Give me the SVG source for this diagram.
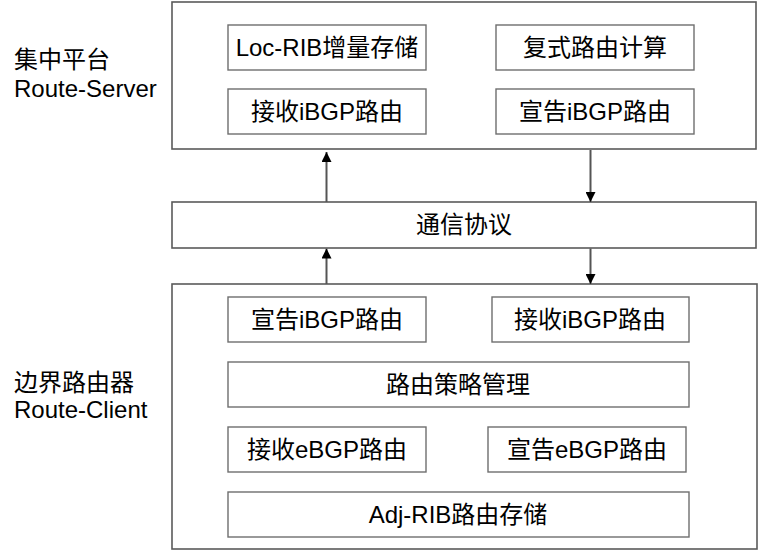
<svg xmlns="http://www.w3.org/2000/svg" width="759" height="551" viewBox="0 0 759 551">
<defs>
<style>
.outer{fill:#fff;stroke:#5a5a5a;stroke-width:1.6}
.inner{fill:#fff;stroke:#6e6e6e;stroke-width:1.4}
.t{font-family:"Liberation Sans","Noto Sans CJK SC",Arial,sans-serif;font-size:24px;fill:#000;text-anchor:middle}
.lbl{font-family:"Liberation Sans","Noto Sans CJK SC",Arial,sans-serif;font-size:24px;fill:#000}
.conn{stroke:#555;stroke-width:2;fill:none}
</style>
<marker id="ah" viewBox="0 0 10 10" refX="10" refY="5" markerWidth="10" markerHeight="10" markerUnits="userSpaceOnUse" orient="auto">
<path d="M0,0 L10,5 L0,10 Z" fill="#000"/>
</marker>
</defs>
<rect width="759" height="551" fill="#fff"/>

<g id="labels">
<text class="lbl" x="14" y="68">集中平台</text>
<text class="lbl" x="14" y="97">Route-Server</text>
<text class="lbl" x="14" y="391">边界路由器</text>
<text class="lbl" x="14" y="418">Route-Client</text>
</g>

<g id="route-server">
<rect class="outer" x="172" y="2" width="584" height="147"/>
<g id="loc-rib"><rect class="inner" x="228" y="25" width="198" height="45"/><text class="t" x="327" y="56">Loc-RIB增量存储</text></g>
<g id="fushi"><rect class="inner" x="496" y="25" width="198" height="45"/><text class="t" x="595" y="56">复式路由计算</text></g>
<g id="rs-recv"><rect class="inner" x="228" y="89" width="198" height="45"/><text class="t" x="327" y="120">接收iBGP路由</text></g>
<g id="rs-adv"><rect class="inner" x="496" y="89" width="198" height="45"/><text class="t" x="595" y="120">宣告iBGP路由</text></g>
</g>

<g id="protocol">
<rect class="outer" x="172" y="202" width="584" height="46"/>
<text class="t" x="464" y="233">通信协议</text>
</g>

<g id="route-client">
<rect class="outer" x="172" y="284" width="585" height="265"/>
<g id="rc-adv-i"><rect class="inner" x="228" y="297" width="198" height="45"/><text class="t" x="327" y="328">宣告iBGP路由</text></g>
<g id="rc-recv-i"><rect class="inner" x="492" y="297" width="197" height="45"/><text class="t" x="590" y="328">接收iBGP路由</text></g>
<g id="policy"><rect class="inner" x="228" y="362" width="461" height="45"/><text class="t" x="458" y="393">路由策略管理</text></g>
<g id="rc-recv-e"><rect class="inner" x="228" y="427" width="198" height="45"/><text class="t" x="327" y="458">接收eBGP路由</text></g>
<g id="rc-adv-e"><rect class="inner" x="488" y="427" width="198" height="45"/><text class="t" x="587" y="458">宣告eBGP路由</text></g>
<g id="adj-rib"><rect class="inner" x="228" y="492" width="461" height="45"/><text class="t" x="458" y="523">Adj-RIB路由存储</text></g>
</g>

<g id="connectors">
<line class="conn" x1="326.5" y1="202" x2="326.5" y2="152" marker-end="url(#ah)"/>
<line class="conn" x1="590.5" y1="150" x2="590.5" y2="202" marker-end="url(#ah)"/>
<line class="conn" x1="326.5" y1="284" x2="326.5" y2="248.5" marker-end="url(#ah)"/>
<line class="conn" x1="590.5" y1="248.5" x2="590.5" y2="284" marker-end="url(#ah)"/>
</g>
</svg>
